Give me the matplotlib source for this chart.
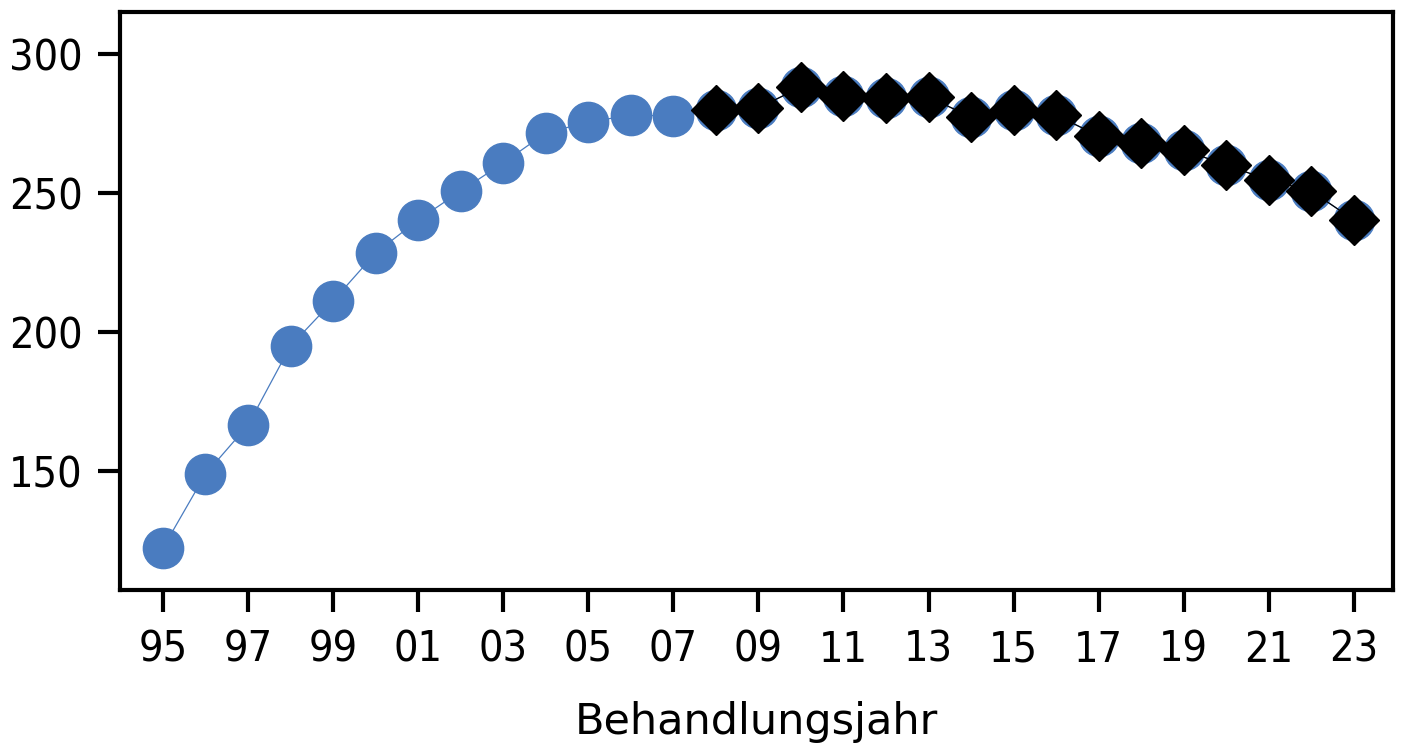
import numpy as np
import matplotlib.pyplot as plt

plt.rcParams['font.family'] = ['DejaVu Sans']

# Behandlungen je Jahr, 1995-2023
years = list(range(1995, 2024))
values = [122.3, 148.9, 166.5, 195.0, 211.2, 228.4, 240.3, 250.7, 260.8, 271.6,
          275.5, 278.0, 277.7, 279.9, 280.6, 288.1, 284.9, 284.2, 284.5, 277.3,
          279.9, 278.0, 270.5, 268.0, 265.5, 260.0, 254.7, 250.7, 240.3]
split_year = 2008  # ab hier hervorgehoben
tick_years = list(range(1995, 2024, 2))
tick_labels = [f"{y % 100:02d}" for y in tick_years]
y_ticks = [150, 200, 250, 300]

blue = '#4a7cc0'

fig = plt.figure(figsize=(14.05, 7.47), dpi=100)
ax = fig.add_axes([120 / 1405, 1 - 590 / 747, (1393 - 120) / 1405, (590 - 12) / 747])

ax.plot(years, values, color=blue, lw=0.9, marker='o', ms=29,
        markerfacecolor=blue, markeredgecolor=blue, zorder=2)

hy = [y for y in years if y >= split_year]
hv = [v for y, v in zip(years, values) if y >= split_year]
ax.plot(hy, hv, color='black', lw=0.9, marker='D', ms=25,
        markerfacecolor='black', markeredgecolor='black', zorder=3)

ax.set_xlim(1993.99, 2023.92)
ax.set_ylim(107.2, 315.1)
ax.set_xticks(tick_years)
ax.set_xticklabels(tick_labels)
ax.set_yticks(y_ticks)
ax.tick_params(axis='both', length=16, width=3, color='black')
ax.tick_params(axis='x', pad=12)
ax.tick_params(axis='y', pad=11)
# narrower digits on the axes
for lab in ax.get_xticklabels() + ax.get_yticklabels():
    lab.set_fontsize(31)
    lab.set_fontstretch('condensed')
for s in ax.spines.values():
    s.set_linewidth(3)
ax.set_xlabel('Behandlungsjahr', fontsize=31, labelpad=22)

fig.savefig('out.png', dpi=100)
